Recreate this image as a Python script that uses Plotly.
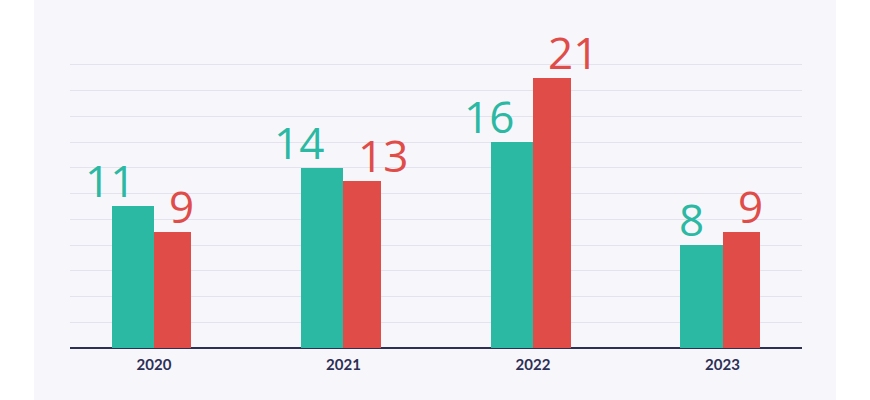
import plotly.graph_objects as go

years = ["2020", "2021", "2022", "2023"]
series_a = [11, 14, 16, 8]
series_b = [9, 13, 21, 9]

TEAL = "#2bb9a4"
RED = "#e04c48"
NAVY = "#2d2f55"
GRID = "#e3e2ee"
PANEL = "#f7f6fb"

xpos = list(range(len(years)))
w_a = 0.223
w_b = 0.198

fig = go.Figure()
fig.add_trace(go.Bar(x=xpos, y=series_a, width=w_a, offset=-w_a,
                     marker=dict(color=TEAL, line=dict(width=0)), hoverinfo="skip"))
fig.add_trace(go.Bar(x=xpos, y=series_b, width=w_b, offset=0,
                     marker=dict(color=RED, line=dict(width=0)), hoverinfo="skip"))

LABEL_FONT = "Open Sans"
annos = []
for i, v in enumerate(series_a):
    annos.append(dict(x=xpos[i], y=v, text=str(v), showarrow=False, xanchor="right",
                      yanchor="bottom", xshift=-17, yshift=-6,
                      font=dict(family=LABEL_FONT, size=44, color=TEAL, weight=400)))
for i, v in enumerate(series_b):
    annos.append(dict(x=xpos[i], y=v, text=str(v), showarrow=False, xanchor="left",
                      yanchor="bottom", xshift=13, yshift=-6,
                      font=dict(family=LABEL_FONT, size=44, color=RED, weight=400)))

fig.update_layout(
    width=870, height=400,
    margin=dict(l=70, r=68, t=61, b=52),
    paper_bgcolor="white",
    plot_bgcolor="rgba(0,0,0,0)",
    showlegend=False,
    bargap=0, barmode="overlay",
    annotations=annos,
    shapes=[dict(type="rect", xref="paper", yref="paper",
                 x0=-0.0492, x1=1.0464, y0=-0.19, y1=1.24,
                 fillcolor=PANEL, line=dict(width=0), layer="below")],
    xaxis=dict(range=[-0.443, 3.4195], tickmode="array", tickvals=xpos, ticktext=years,
               showgrid=False, zeroline=False, showline=False,
               tickfont=dict(family="Lato", size=15, color=NAVY, weight="bold"),
               ticks="", ticklabelstandoff=6),
    yaxis=dict(range=[0, 22.3], tickmode="array", tickvals=list(range(0, 23, 2)),
               showticklabels=False, gridcolor=GRID, gridwidth=1.2,
               zeroline=True, zerolinecolor=NAVY, zerolinewidth=2, showline=False, ticks=""),
)

fig.write_html("out.html")
